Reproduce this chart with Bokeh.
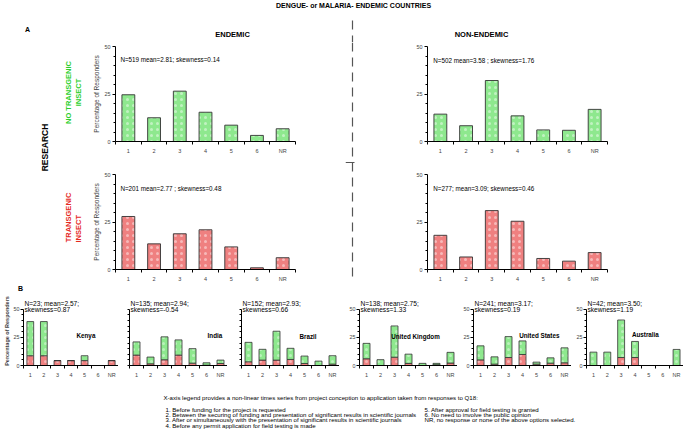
import math
from bokeh.plotting import figure
from bokeh.models import Range1d, FixedTicker, Label, ColumnDataSource
from bokeh.layouts import row, column
from bokeh.core.properties import value
from bokeh.embed import file_html
from bokeh.resources import INLINE

FONT = "Liberation Sans"

# ---------------- data ----------------
categories = ["1", "2", "3", "4", "5", "6", "NR"]

# Panel A (percentage of responders)
endemic_no_transgenic = [24.6, 12.5, 26.5, 15.4, 8.6, 3.2, 6.7]
nonendemic_no_transgenic = [14.4, 8.3, 32.1, 13.5, 6.1, 5.9, 16.9]
endemic_transgenic = [27.9, 13.5, 18.8, 20.9, 11.9, 0.9, 6.2]
nonendemic_transgenic = [18.0, 6.6, 31.0, 25.4, 5.8, 4.4, 8.9]

stats_endemic_no = "N=519 mean=2.81; skewness=0.14"
stats_nonendemic_no = "N=502 mean=3.58 ; skewness=1.76"
stats_endemic_tr = "N=201 mean=2.77 ; skewness=0.48"
stats_nonendemic_tr = "N=277; mean=3.09; skewness=0.46"

# Panel B (stacked: transgenic = red bottom, no transgenic = green top)
countries = ["Kenya", "India", "Brazil", "United Kingdom", "United States", "Australia"]
country_stats_1 = ["N=23; mean=2.57;", "N=135; mean=2.94;", "N=152; mean=2.93;",
                   "N=138; mean=2.75;", "N=241; mean=3.17;", "N=42; mean=3.50;"]
country_stats_2 = ["skewness=0.87", "skewness=-0.54", "skewness=0.66",
                   "skewness=1.33", "skewness=0.19", "skewness=1.19"]
kenya_transgenic = [8.7, 8.7, 4.35, 4.35, 4.35, 0.0, 4.35]
kenya_no_transgenic = [30.4, 30.4, 0.0, 0.0, 4.35, 0.0, 0.0]
india_transgenic = [9.3, 1.5, 5.1, 9.3, 2.1, 0.3, 1.8]
india_no_transgenic = [11.7, 6.0, 20.4, 13.5, 12.9, 2.1, 3.0]
brazil_transgenic = [3.3, 4.8, 4.8, 5.4, 1.8, 0.0, 1.2]
brazil_no_transgenic = [17.3, 9.6, 25.7, 9.9, 6.6, 3.9, 7.5]
uk_transgenic = [6.0, 0.0, 7.4, 1.9, 0.0, 0.7, 2.2]
uk_no_transgenic = [13.7, 5.2, 27.8, 8.2, 1.9, 1.2, 9.5]
us_transgenic = [5.0, 1.2, 7.1, 9.8, 1.2, 2.1, 2.4]
us_no_transgenic = [12.5, 6.5, 18.6, 12.1, 1.8, 4.7, 13.3]
australia_transgenic = [0.0, 0.0, 7.1, 7.1, 0.0, 0.0, 0.0]
australia_no_transgenic = [11.9, 11.9, 33.4, 14.3, 0.0, 0.0, 14.3]

country_transgenic = [kenya_transgenic, india_transgenic, brazil_transgenic,
                      uk_transgenic, us_transgenic, australia_transgenic]
country_no_transgenic = [kenya_no_transgenic, india_no_transgenic, brazil_no_transgenic,
                         uk_no_transgenic, us_no_transgenic, australia_no_transgenic]

legend_header = ("X-axis legend provides a non-linear times series from project conception "
                 "to application taken from responses to Q18:")
legend_left = ["1. Before funding for the project is requested",
               "2. Between the securing of funding and presentation of significant results in scientific journals",
               "3. After or simultaneously with the presentation of significant results in scientific journals",
               "4. Before any permit application for field testing is made"]
legend_right = ["5. After approval for field testing is granted",
                "6. No need to involve the public opinion",
                "NR, no response or none of the above options selected."]

# ---------------- style ----------------
GREEN_FILL = "#8ee88e"
RED_FILL = "#ef8080"
GREEN_TEXT = "#2ccf2c"
RED_TEXT = "#e5281e"
BAR_LINE = "#333333"
DASH_COLOR = "#555555"

xpos = [i + 1 for i in range(len(categories))]


def deco(x0, x1, y0, y1):
    p = figure(width=x1 - x0, height=y1 - y0, x_range=Range1d(x0, x1), y_range=Range1d(y1, y0),
               output_backend="svg", toolbar_location=None, min_border=0,
               x_axis_location=None, y_axis_location=None)
    p.grid.visible = False
    p.outline_line_color = None
    return p


def txt(p, x, y, s, size, color="black", bold=False, align="center", angle=0.0, baseline="middle"):
    p.text(x=[x], y=[y], text=[s], text_font=value(FONT), text_font_size=size,
           text_color=color, text_font_style="bold" if bold else "normal",
           text_align=align, text_baseline=baseline, angle=angle)


def dash(p, xs, ys):
    p.line(xs, ys, line_color=DASH_COLOR, line_width=1.2, line_dash="9 6")


def bar_panel(width, height, bl, bt, br, bb, ytop=50, tick_labels=True, axis_label=None,
              axis_label_size="6.5px", axis_label_bold=False, ylab_standoff=2, axlab_standoff=2):
    p = figure(width=width, height=height, x_range=Range1d(0.5, 7.5), y_range=Range1d(0, ytop),
               output_backend="svg", toolbar_location=None,
               min_border_left=bl, min_border_top=bt, min_border_right=br, min_border_bottom=bb)
    p.grid.visible = False
    p.outline_line_color = None
    xa = p.xaxis[0]
    ya = p.yaxis[0]
    xa.ticker = FixedTicker(ticks=xpos, minor_ticks=[0.5 + i for i in range(len(categories) + 1)])
    xa.major_label_overrides = {x: c for x, c in zip(xpos, categories)}
    xa.major_tick_out = 0
    xa.major_tick_in = 0
    xa.minor_tick_out = 3
    xa.minor_tick_in = 0
    xa.major_label_standoff = 3
    xa.major_label_text_font = FONT
    xa.major_label_text_font_size = "5.5px"
    xa.axis_line_color = "black"
    if tick_labels:
        ya.ticker = FixedTicker(ticks=[0, 25, 50], minor_ticks=[5, 10, 15, 20, 30, 35, 40, 45])
    else:
        ya.ticker = FixedTicker(ticks=[], minor_ticks=[0, 5, 10, 15, 20, 25, 30, 35, 40, 45, 50])
    ya.bounds = (0, 50)
    ya.major_tick_out = 3
    ya.major_tick_in = 0
    ya.minor_tick_out = 2
    ya.minor_tick_in = 0
    ya.major_label_standoff = ylab_standoff
    ya.major_label_text_font = FONT
    ya.major_label_text_font_size = "5.4px"
    ya.major_label_orientation = "horizontal"
    if axis_label:
        ya.axis_label = axis_label
        ya.axis_label_text_font = FONT
        ya.axis_label_text_font_size = axis_label_size
        ya.axis_label_text_font_style = "bold" if axis_label_bold else "normal"
        ya.axis_label_standoff = axlab_standoff
    return p


def add_bars(p, vals, fill):
    p.vbar(x=xpos, top=vals, bottom=0, width=0.5, fill_color=fill, line_color=BAR_LINE,
           line_width=0.9, hatch_pattern="dot", hatch_color="white", hatch_alpha=0.45,
           hatch_scale=6, hatch_weight=0.7)


def add_label(p, x, y, s, size="6.3px", bold=False, align="left"):
    p.add_layout(Label(x=x, y=y, text=s, text_font=FONT, text_font_size=size,
                       text_color="black", text_font_style="bold" if bold else "normal",
                       text_align=align, text_baseline="middle"))


# ---------------- header ----------------
header = deco(0, 683, 0, 42)
txt(header, 353, 5, "DENGUE- or MALARIA- ENDEMIC COUNTRIES", "7px", bold=True)
txt(header, 27, 29, "A", "7px", bold=True)
txt(header, 232, 34, "ENDEMIC", "7.5px", bold=True)
txt(header, 481, 34, "NON-ENDEMIC", "7.5px", bold=True)
dash(header, [352, 352], [20, 42])

# ---------------- left labels column ----------------
colL = deco(0, 88, 42, 292)
txt(colL, 44, 147, "RESEARCH", "8.5px", bold=True, angle=math.pi / 2)
txt(colL, 68, 92, "NO TRANSGENIC", "7.5px", color=GREEN_TEXT, bold=True, angle=math.pi / 2)
txt(colL, 78, 92, "INSECT", "7.5px", color=GREEN_TEXT, bold=True, angle=math.pi / 2)
txt(colL, 68, 217, "TRANSGENIC", "7.5px", color=RED_TEXT, bold=True, angle=math.pi / 2)
txt(colL, 78, 242, "INSECT", "7.5px", color=RED_TEXT, bold=True, angle=math.pi / 2, align="left")
txt(colL, 20, 288, "B", "7px", bold=True)

# ---------------- vertical divider ----------------
vcol = deco(345, 360, 42, 292)
dash(vcol, [352, 352], [42, 279])
dash(vcol, [345, 360], [162, 162])

# ---------------- panel A figures ----------------
tl = bar_panel(257, 116, 27, 4, 50, 17, axis_label="Percentage of Responders")
add_bars(tl, endemic_no_transgenic, GREEN_FILL)
add_label(tl, 0.69, 43.2, stats_endemic_no)

tr = bar_panel(323, 116, 67, 4, 76, 17)
add_bars(tr, nonendemic_no_transgenic, GREEN_FILL)
add_label(tr, 0.72, 42.5, stats_nonendemic_no)

bl = bar_panel(257, 126, 27, 8, 50, 23, axis_label="Percentage of Responders")
add_bars(bl, endemic_transgenic, RED_FILL)
add_label(bl, 0.69, 42.5, stats_endemic_tr)

br = bar_panel(323, 126, 67, 8, 76, 23)
add_bars(br, nonendemic_transgenic, RED_FILL)
add_label(br, 0.72, 42.5, stats_nonendemic_tr)

d1 = deco(88, 345, 158, 166)
dash(d1, [90, 345], [162, 162])
d2 = deco(360, 683, 158, 166)
dash(d2, [360, 592], [162, 162])

# ---------------- panel B figures ----------------
b_widths = [118, 109, 112, 118, 114, 112]
b_borders = [21, 11, 14, 20, 16, 15]
b_ticklabels = [True, False, False, True, True, True]
name_pos = [(5.1, 27.0), (6.6, 26.5), (5.25, 25.5), (4.5, 25.5), (5.2, 27.0), (4.75, 28.0)]
B_TOP = 50 + 13 * 50 / 57.0

bpanels = []
for i, c in enumerate(countries):
    p = bar_panel(b_widths[i], 88, b_borders[i], 4, 0, 14, ytop=B_TOP,
                  tick_labels=b_ticklabels[i],
                  axis_label="Percentage of Responders" if i == 0 else None,
                  axis_label_size="5.5px", axis_label_bold=True, ylab_standoff=1, axlab_standoff=1)
    src = ColumnDataSource(dict(x=xpos, tr=country_transgenic[i], no=country_no_transgenic[i]))
    p.vbar_stack(["tr", "no"], x="x", width=0.5, source=src,
                 fill_color=[RED_FILL, GREEN_FILL], line_color=BAR_LINE, line_width=0.8,
                 hatch_pattern="dot", hatch_color="white", hatch_alpha=0.4,
                 hatch_scale=6, hatch_weight=0.7)
    add_label(p, 0.57, 55.4, country_stats_1[i], size="6.6px")
    add_label(p, 0.57, 50.2, country_stats_2[i], size="6.6px")
    add_label(p, name_pos[i][0], name_pos[i][1], c, size="6.3px", bold=True, align="center")
    bpanels.append(p)

# ---------------- footer ----------------
footer = deco(0, 683, 380, 431)
txt(footer, 163, 397, legend_header, "6.1px", align="left")
for k, s in enumerate(legend_left):
    txt(footer, 165, 409 + 5.2 * k, s, "6.1px", align="left")
for k, s in enumerate(legend_right):
    txt(footer, 424, 409 + 5.2 * k, s, "6.1px", align="left")

layout = column(
    header,
    row(colL, column(tl, d1, bl), vcol, column(tr, d2, br)),
    row(*bpanels),
    footer,
)

open("out.html", "w").write(file_html(layout, INLINE))
